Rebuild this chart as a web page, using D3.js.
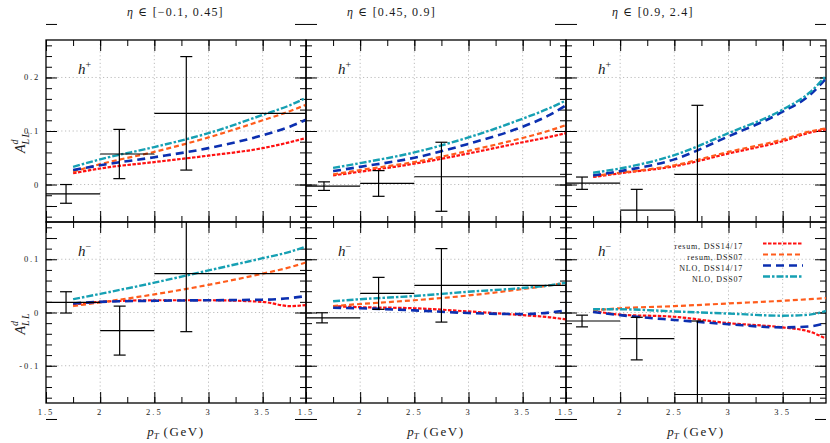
<!DOCTYPE html>
<html>
<head>
<meta charset="utf-8">
<script src="https://cdn.jsdelivr.net/npm/d3@7"></script>
<style>
  body { margin: 0; background: #fff; }
  svg text { font-family: "Liberation Serif", "DejaVu Serif", serif; }
</style>
</head>
<body>
<div id="chart"></div>
<script>
const ptGrid = [1.75, 2, 2.5, 3, 3.5, 3.75, 3.9];

// panel order: h+ eta1, h+ eta2, h+ eta3, h- eta1, h- eta2, h- eta3
const resumDSS14 = [
  [0.021, 0.030, 0.042, 0.054, 0.068, 0.079, 0.087],
  [0.017, 0.024, 0.039, 0.058, 0.079, 0.089, 0.096],
  [0.014, 0.021, 0.034, 0.058, 0.081, 0.097, 0.103],
  [0.015, 0.020, 0.023, 0.023, 0.020, 0.012, 0.014],
  [0.012, 0.010, 0.008, 0.002, -0.005, -0.009, -0.013],
  [0.003, -0.004, -0.008, -0.020, -0.028, -0.036, -0.049]
];
const resumDSS07 = [
  [0.024, 0.038, 0.061, 0.088, 0.120, 0.137, 0.149],
  [0.019, 0.027, 0.042, 0.063, 0.087, 0.101, 0.111],
  [0.016, 0.022, 0.036, 0.061, 0.084, 0.099, 0.105],
  [0.012, 0.019, 0.034, 0.052, 0.073, 0.085, 0.094],
  [0.012, 0.016, 0.023, 0.032, 0.044, 0.051, 0.056],
  [0.004, 0.008, 0.012, 0.017, 0.022, 0.025, 0.027]
];
const nloDSS14 = [
  [0.027, 0.036, 0.051, 0.068, 0.092, 0.108, 0.121],
  [0.025, 0.033, 0.050, 0.076, 0.108, 0.130, 0.148],
  [0.017, 0.025, 0.047, 0.090, 0.136, 0.167, 0.198],
  [0.017, 0.020, 0.022, 0.023, 0.024, 0.027, 0.031],
  [0.009, 0.008, 0.004, -0.001, -0.003, 0.000, 0.004],
  [0.001, -0.005, -0.014, -0.022, -0.028, -0.026, -0.020]
];
const nloDSS07 = [
  [0.033, 0.047, 0.070, 0.096, 0.130, 0.148, 0.162],
  [0.031, 0.040, 0.060, 0.088, 0.123, 0.143, 0.157],
  [0.022, 0.030, 0.055, 0.096, 0.140, 0.172, 0.203],
  [0.025, 0.035, 0.056, 0.079, 0.102, 0.114, 0.124],
  [0.021, 0.025, 0.031, 0.039, 0.046, 0.051, 0.056],
  [0.006, 0.006, 0.002, -0.002, -0.006, -0.004, 0.003]
];

// measured points (pT bins 1.5-2, 2-2.5, 2.5-4)
const binEdges = [1.5, 2, 2.5, 4];
const dataPt = [
  [1.685, 2.177, 2.795], [1.666, 2.17, 2.75], [1.648, 2.153, 2.713],
  [1.685, 2.18, 2.795], [1.648, 2.17, 2.75], [1.648, 2.153, 2.713]
];
const dataA = [
  [-0.0175, 0.057, 0.133], [-0.003, 0.002, 0.0145], [0.0025, -0.048, 0.019],
  [0.019, -0.034, 0.073], [-0.010, 0.036, 0.051], [-0.016, -0.049, -0.154]
];
const dataErr = [
  [0.0175, 0.046, 0.106], [0.008, 0.024, 0.0645], [0.0115, 0.039, 0.129],
  [0.020, 0.046, 0.109], [0.0095, 0.030, 0.069], [0.011, 0.040, 0.138]
];

const etaTitles = ["[\u22120.1, 0.45]", "[0.45, 0.9]", "[0.9, 2.4]"];
const hadronSigns = ["+", "\u2212"];
const xTicks = [1.5, 2, 2.5, 3, 3.5];
const yTicksTop = [0, 0.1, 0.2];
const yTicksBottom = [-0.1, 0, 0.1];
const seriesNames = ["resum, DSS14/17", "resum, DSS07", "NLO, DSS14/17", "NLO, DSS07"];

const seriesData = [resumDSS14, resumDSS07, nloDSS14, nloDSS07];
const seriesStyle = [
  { color: "#ff1010", dash: "3.5,1.5", width: 2.2 },
  { color: "#ff5c1c", dash: "5,3", width: 2.2 },
  { color: "#0b2fb0", dash: "8,5", width: 2.6 },
  { color: "#16a0b3", dash: "7,2,2.5,2", width: 2.4 }
];

const W = 830, H = 443;
const colX = [46, 306, 566], panelW = 260;
const rowY = [40, 222], panelH = [182, 181];
const yDomains = [[-0.07, 0.27], [-0.17, 0.17]];
const titleX = [127, 347, 612];
const serif = "Liberation Serif, DejaVu Serif, serif";
const ink = "#1a1a1a";

const svg = d3.select("#chart").append("svg")
  .attr("width", W).attr("height", H)
  .attr("font-family", serif);

const x = d3.scaleLinear().domain([1.5, 3.9]).range([0, panelW]);
const xMinor = d3.range(1.5, 3.91, 0.25);
const line = d3.line().curve(d3.curveMonotoneX);

for (let r = 0; r < 2; r++) {
  const y = d3.scaleLinear().domain(yDomains[r]).range([panelH[r], 0]);
  const yMajor = r === 0 ? [-0.1, 0, 0.1, 0.2, 0.3] : [-0.2, -0.1, 0, 0.1, 0.2];
  const yMinor = d3.range(-0.2, 0.301, 0.02).filter(v => v >= yDomains[r][0] - 1e-9 && v <= yDomains[r][1] + 1e-9);

  for (let c = 0; c < 3; c++) {
    const k = r * 3 + c;
    const g = svg.append("g").attr("transform", `translate(${colX[c]},${rowY[r]})`);

    const clipId = "clip" + k;
    g.append("clipPath").attr("id", clipId)
      .append("rect").attr("width", panelW).attr("height", panelH[r]);

    // grid
    const grid = g.append("g").attr("stroke", "#b5b5b5").attr("stroke-width", 0.9)
      .attr("stroke-dasharray", "1.2,2.6");
    grid.selectAll("line.gx").data([2, 2.5, 3, 3.5]).join("line")
      .attr("x1", d => x(d)).attr("x2", d => x(d)).attr("y1", 0).attr("y2", panelH[r]);
    grid.selectAll("line.gy").data(yMajor.filter(v => v > yDomains[r][0] && v < yDomains[r][1])).join("line")
      .attr("x1", 0).attr("x2", panelW).attr("y1", d => y(d)).attr("y2", d => y(d));

    // ticks on all sides, pointing inwards
    const tickAxes = [
      [d3.axisBottom(x), `translate(0,${panelH[r]})`, xMinor, xTicks],
      [d3.axisTop(x), "translate(0,0)", xMinor, xTicks],
      [d3.axisLeft(y), "translate(0,0)", yMinor, yMajor],
      [d3.axisRight(y), `translate(${panelW},0)`, yMinor, yMajor]
    ];
    tickAxes.forEach(([ax, tr, minor, major]) => {
      g.append("g").attr("transform", tr)
        .call(ax.tickValues(minor).tickSize(-6).tickFormat(""))
        .call(s => s.select(".domain").remove());
      g.append("g").attr("transform", tr)
        .call(ax.tickValues(major).tickSize(-11).tickFormat(""))
        .call(s => s.select(".domain").remove());
    });
    g.selectAll(".tick line").attr("stroke", "#000").attr("stroke-width", 1);

    // frame
    g.append("rect").attr("width", panelW).attr("height", panelH[r])
      .attr("fill", "none").attr("stroke", "#000").attr("stroke-width", 1.3);

    const plot = g.append("g").attr("clip-path", `url(#${clipId})`);

    // theory curves
    seriesData.forEach((series, s) => {
      const pts = ptGrid.map((p, i) => [x(p), y(series[k][i])]);
      plot.append("path").attr("d", line(pts))
        .attr("fill", "none")
        .attr("stroke", seriesStyle[s].color)
        .attr("stroke-width", seriesStyle[s].width)
        .attr("stroke-dasharray", seriesStyle[s].dash);
    });

    // data with error bars
    const eb = plot.append("g").attr("stroke", "#000").attr("stroke-width", 1.2);
    dataPt[k].forEach((p, i) => {
      const a = dataA[k][i], e = dataErr[k][i];
      eb.append("line").attr("x1", x(binEdges[i])).attr("x2", x(binEdges[i + 1]))
        .attr("y1", y(a)).attr("y2", y(a));
      eb.append("line").attr("x1", x(p)).attr("x2", x(p))
        .attr("y1", y(a - e)).attr("y2", y(a + e));
      [a - e, a + e].forEach(v => {
        eb.append("line").attr("x1", x(p) - 6).attr("x2", x(p) + 6)
          .attr("y1", y(v)).attr("y2", y(v));
      });
    });

    // hadron label
    const hl = g.append("text").attr("x", 32).attr("y", 34).attr("fill", ink)
      .attr("font-size", 15).attr("font-style", "italic");
    hl.append("tspan").text("h");
    hl.append("tspan").attr("dy", -6).attr("font-size", 10).attr("font-style", "normal").text(hadronSigns[r]);

    // y tick labels on the first column
    if (c === 0) {
      g.selectAll("text.yl").data(r === 0 ? yTicksTop : yTicksBottom).join("text")
        .attr("x", -6).attr("y", d => y(d) + 3).attr("fill", ink)
        .attr("text-anchor", "end").attr("font-size", 8.5).attr("letter-spacing", 1.8)
        .text(d => d === 0 ? "0" : (d < 0 ? "-" : "") + Math.abs(d).toFixed(1));

      const yl = svg.append("text")
        .attr("transform", `translate(25,${rowY[r] + panelH[r] / 2 + 22}) rotate(-90)`)
        .attr("font-size", 14).attr("font-style", "italic").attr("fill", ink);
      yl.append("tspan").text("A");
      yl.append("tspan").attr("dy", -7).attr("font-size", 10).text("d");
      yl.append("tspan").attr("dx", -5).attr("dy", 11).attr("font-size", 10).attr("letter-spacing", 1.5).text("LL");
    }

    if (r === 1) {
      g.selectAll("text.xl").data(xTicks).join("text")
        .attr("x", d => x(d)).attr("y", panelH[r] + 12).attr("fill", ink)
        .attr("text-anchor", "middle").attr("font-size", 8.5).attr("letter-spacing", 2)
        .text(d => d);

      const xt = g.append("text").attr("x", panelW / 2).attr("y", panelH[r] + 33)
        .attr("text-anchor", "middle").attr("font-size", 13).attr("fill", ink);
      xt.append("tspan").attr("font-style", "italic").text("p");
      xt.append("tspan").attr("font-style", "italic").attr("font-size", 9).attr("dy", 3).text("T");
      xt.append("tspan").attr("dy", -3).attr("letter-spacing", 1.6).text(" (GeV)");
    } else {
      const tt = svg.append("text").attr("x", titleX[c]).attr("y", 16)
        .attr("font-size", 12).attr("letter-spacing", 1.2).attr("fill", ink);
      tt.append("tspan").attr("font-style", "italic").text("\u03b7");
      tt.append("tspan").text(" \u2208 " + etaTitles[c]);
    }
  }
}

// legend inside the bottom-right panel
const leg = svg.append("g");
seriesNames.forEach((name, s) => {
  const by = 249 + s * 11;
  leg.append("text").attr("x", 743).attr("y", by).attr("fill", ink)
    .attr("text-anchor", "end").attr("font-size", 8).attr("letter-spacing", 0.8)
    .text(name);
  leg.append("line").attr("x1", 763).attr("x2", 803).attr("y1", by - 5.5).attr("y2", by - 5.5)
    .attr("stroke", seriesStyle[s].color)
    .attr("stroke-width", seriesStyle[s].width)
    .attr("stroke-dasharray", seriesStyle[s].dash);
});
</script>
</body>
</html>
